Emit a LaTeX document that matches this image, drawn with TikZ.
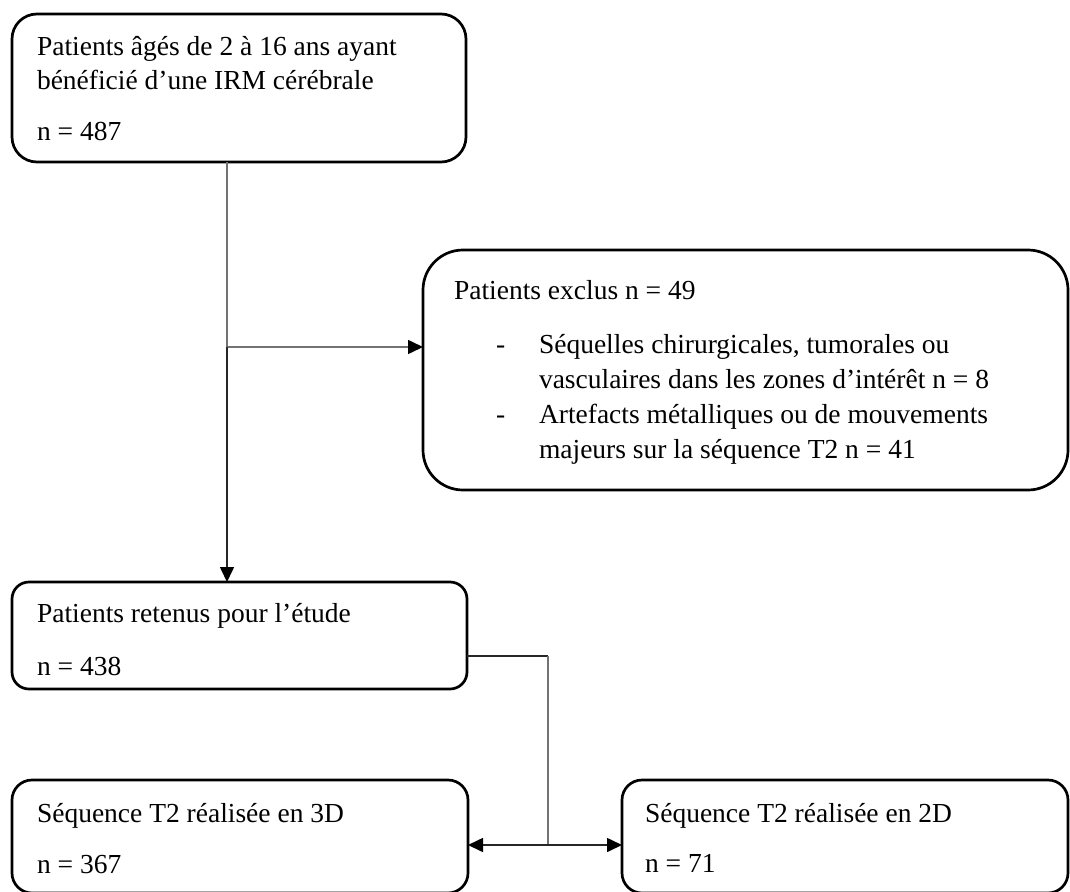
\documentclass[tikz,border=0pt]{standalone}
\usepackage{fontspec}
\setmainfont{Liberation Serif}
\usetikzlibrary{arrows.meta}
\begin{document}
\begin{tikzpicture}[x=1pt,y=-1pt,
  box/.style={draw=black, line width=2.7pt, anchor=north west, inner sep=0pt, outer sep=0pt},
  txt/.style={anchor=base west, inner sep=0pt, outer sep=0pt, font=\fontsize{27.5}{33}\selectfont, text=black},
  conn/.style={line width=1.6pt, draw=black!55},
  connk/.style={line width=1.6pt, draw=black!85},
  arrowtip/.style={-{Triangle[length=15pt,width=14pt,color=black]}}]
\useasboundingbox (0,0) rectangle (1070,891);
\clip (0,0) rectangle (1070,891);
% boxes
\node[box, rounded corners=25pt, minimum width=454pt, minimum height=148pt] (b1) at (12,14) {};
\node[box, rounded corners=40pt, minimum width=645pt, minimum height=240pt] (b2) at (423,250) {};
\node[box, rounded corners=17pt, minimum width=455pt, minimum height=107pt] (b3) at (12,582) {};
\node[box, rounded corners=20pt, minimum width=456pt, minimum height=113pt] (b4) at (12,780) {};
\node[box, rounded corners=20pt, minimum width=446pt, minimum height=113pt] (b5) at (622,780) {};
% texts
\node[txt] (t1a) at (37,56) {Patients âgés de 2 à 16 ans ayant};
\node[txt] (t1b) at (37,89) {bénéficié d’une IRM cérébrale};
\node[txt] (t1c) at (37,140) {n = 487};
\node[txt] (t2a) at (454,299) {Patients exclus n = 49};
\node[txt] (d1) at (496,353) {-};
\node[txt] (t2b) at (539,353) {Séquelles chirurgicales, tumorales ou};
\node[txt] (t2c) at (539,388) {vasculaires dans les zones d’intérêt n = 8};
\node[txt] (d2) at (496,423) {-};
\node[txt] (t2d) at (539,423) {Artefacts métalliques ou de mouvements};
\node[txt] (t2e) at (539,458) {majeurs sur la séquence T2 n = 41};
\node[txt] (t3a) at (37,622) {Patients retenus pour l’étude};
\node[txt] (t3b) at (37,675) {n = 438};
\node[txt] (t4a) at (37,822) {Séquence T2 réalisée en 3D};
\node[txt] (t4b) at (37,873) {n = 367};
\node[txt] (t5a) at (645,822) {Séquence T2 réalisée en 2D};
\node[txt] (t5b) at (645,872) {n = 71};
% connectors
\coordinate (j1) at (227,347);
\coordinate (k) at (548,656);
\coordinate (j2) at (548,845);
\draw[conn] (j1 |- b1.south) -- (j1);
\draw[conn, arrowtip] (j1) -- (b2.west |- j1);
\draw[connk, arrowtip] (j1) -- (j1 |- b3.north);
\draw[connk] (b3.east |- k) -- (k);
\draw[conn] (k) -- (j2);
\draw[connk, arrowtip] (j2) -- (b4.east |- j2);
\draw[connk, arrowtip] (j2) -- (b5.west |- j2);
\end{tikzpicture}
\end{document}
